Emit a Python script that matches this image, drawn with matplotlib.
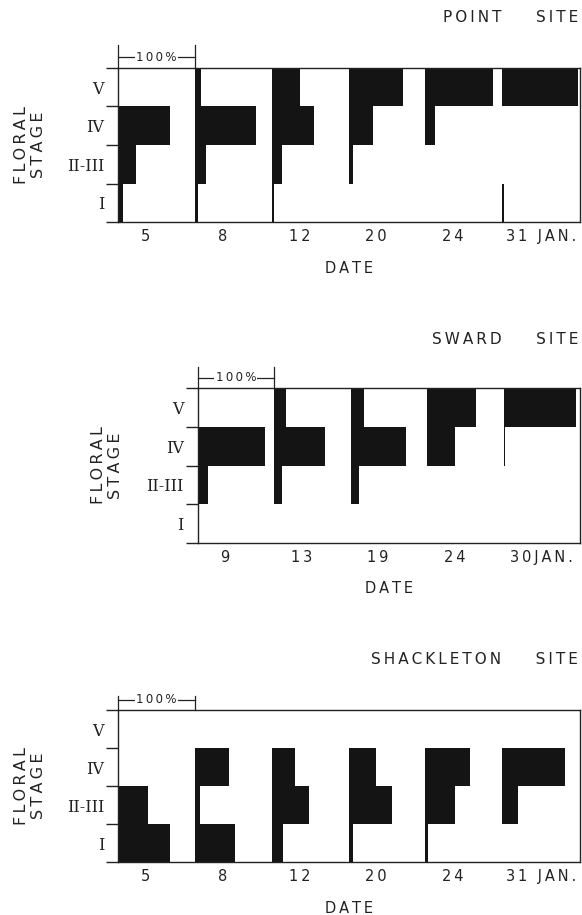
import numpy as np
import matplotlib.pyplot as plt

# percent of plants at each floral stage, per sampling date
# columns: I, II-III, IV, V
stages = ['I', 'II-III', 'IV', 'V']

point_dates = ['5', '8', '12', '20', '24', '31 JAN.']
point_pct = [[6, 24, 68, 0],
             [4, 15, 79, 8],
             [3, 13, 55, 37],
             [0, 6, 32, 71],
             [0, 0, 13, 88],
             [2, 0, 0, 98]]

sward_dates = ['9', '13', '19', '24', '30JAN.']
sward_pct = [[0, 14, 88, 0],
             [0, 10, 67, 16],
             [0, 11, 73, 18],
             [0, 0, 37, 64],
             [0, 0, 2, 95]]

shack_dates = ['5', '8', '12', '20', '24', '31 JAN.']
shack_pct = [[68, 39, 0, 0],
             [52, 7, 44, 0],
             [14, 49, 30, 0],
             [6, 56, 36, 0],
             [3, 39, 58, 0],
             [0, 20, 81, 0]]

W, H = 582, 915
BLACK = '#141414'
INK = '#222222'
TS = '\u2009'  # thin space for letter spacing


def sp(s):
    return TS.join(s)


def fx(x):
    return x / W


def fy(y):
    return 1 - y / H


fig = plt.figure(figsize=(W / 100, H / 100), dpi=100)
fig.patch.set_facecolor('white')

# (title, dates, values, left px, top px, bottom px, xmax, title y, bracket tick top, floral x)
panels = [
    ('POINT    SITE', point_dates, point_pct, 118, 67.7, 222.3, 601, 18, 0.58, 30),
    ('SWARD    SITE', sward_dates, sward_pct, 197.5, 388.3, 542.7, 500, 339, 0.56, 107),
    ('SHACKLETON    SITE', shack_dates, shack_pct, 118, 710, 862.3, 601, 660, 0.36, 30),
]

ypos = np.arange(len(stages)) + 0.5

for title, dates, pct, left, top, bottom, xmax, ty, btop, flx in panels:
    ax = fig.add_axes([fx(left), fy(bottom), (580 - left) / W, (bottom - top) / H])
    pct = np.array(pct)
    for i in range(len(dates)):
        ax.barh(ypos, pct[i], left=i * 100, height=1.0, color=BLACK, linewidth=0)

    ax.set_xlim(0, xmax)
    ax.set_ylim(0, 4)
    for s in ax.spines.values():
        s.set_linewidth(1.0)
        s.set_color(INK)

    # stage boundaries as outward ticks, stage names between them
    ax.set_yticks([0, 1, 2, 3, 4])
    ax.set_yticklabels([])
    ax.set_yticks(ypos, minor=True)
    ax.set_yticklabels(stages, minor=True, fontfamily='DejaVu Serif', fontsize=11.5, color=INK)
    ax.tick_params(axis='y', which='major', length=8.6, width=1.0, direction='out', color=INK)
    ax.tick_params(axis='y', which='minor', length=0, pad=10)

    xt = [i * 100 + 36 for i in range(len(dates))]
    xt[-1] = (len(dates) - 1) * 100 + 50
    ax.set_xticks(xt)
    ax.set_xticklabels([sp(d) for d in dates], fontsize=10.5, color=INK)
    ax.tick_params(axis='x', length=0, pad=5)

    # 100 % scale bracket
    ax.plot([0, 0], [4, 4 + btop], color=INK, lw=0.9, clip_on=False)
    ax.plot([100, 100], [4, 4 + btop], color=INK, lw=0.9, clip_on=False)
    ax.plot([0, 100], [4.27, 4.27], color=INK, lw=0.9, clip_on=False)
    ax.text(50, 4.27, sp('100%'), ha='center', va='center', fontsize=8.5, color=INK,
            bbox=dict(facecolor='white', edgecolor='none', pad=1.0), clip_on=False)

    fig.text(fx((left + 580) / 2), fy(bottom + 46), sp('DATE'), ha='center', va='center',
             fontsize=10.5, color=INK)
    fig.text(fx(578), fy(ty), sp(title), ha='right', va='center', fontsize=11, color=INK)
    fig.text(fx(flx), fy((top + bottom) / 2), sp('FLORAL') + '\n' + sp('STAGE'),
             rotation=90, ha='center', va='center', fontsize=11.5, linespacing=1.2,
             multialignment='center', color=INK)

fig.savefig('out.png', dpi=100, facecolor='white')
